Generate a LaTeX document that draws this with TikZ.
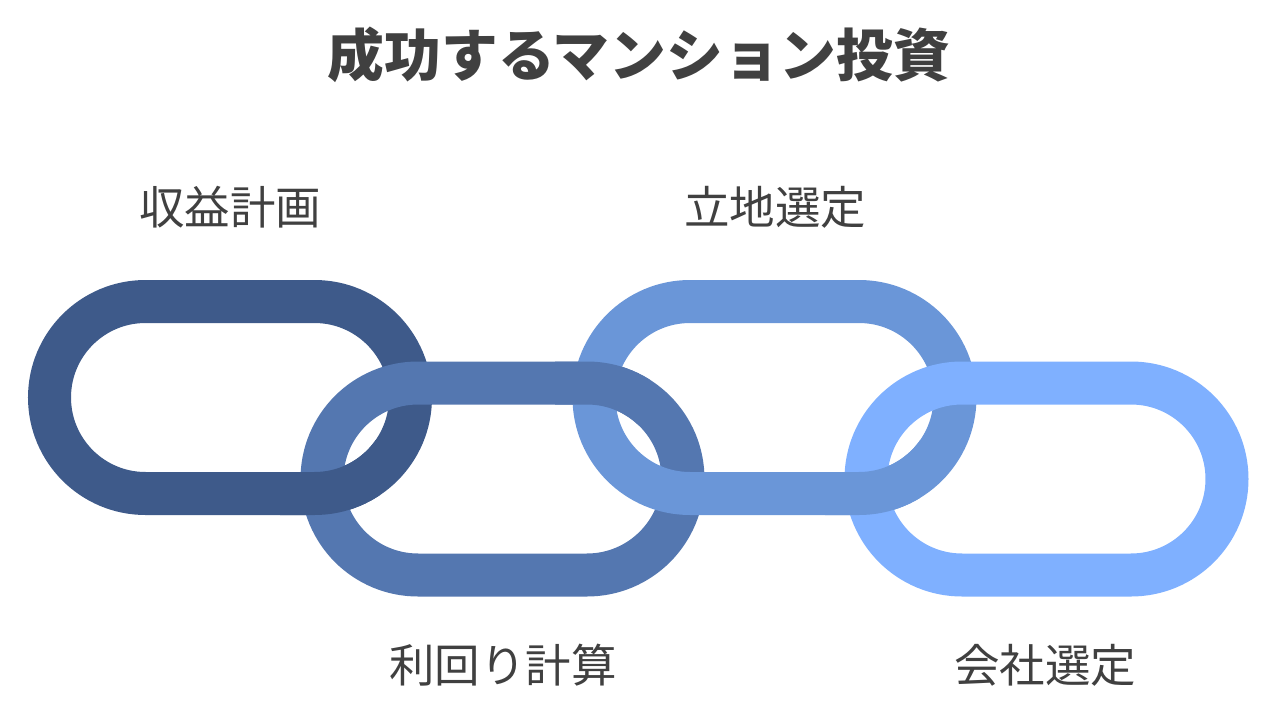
\documentclass[tikz,border=0pt]{standalone}
\usepackage{fontspec}
\setmainfont{Noto Sans CJK JP}
\usetikzlibrary{positioning}
\definecolor{linknavy}{RGB}{62,90,138}
\definecolor{linkblue}{RGB}{84,119,176}
\definecolor{linksky}{RGB}{106,150,216}
\definecolor{linkpale}{RGB}{127,176,255}
\definecolor{textgray}{RGB}{64,64,64}
\tikzset{
  chainring/.style={line width=43pt, rounded corners=96pt},
  linklabel/.style={font=\fontsize{45.5}{50}\selectfont, text=textgray},
  titletext/.style={font=\fontsize{56.8}{62}\selectfont\bfseries, text=textgray}
}
% one link of the chain: centre x, centre y, colour
\newcommand{\chainlink}[3]{%
  \draw[chainring, draw=#3] (#1-180.5,#2-96) rectangle (#1+180.5,#2+96);}

\begin{document}
\begin{tikzpicture}[x=1pt, y=-1pt]
\useasboundingbox (0,0) rectangle (1278,720);
\node[titletext] (title) at (639,55) {成功するマンション投資};
% the four links
\foreach \cx/\cy/\col in {230/397.5/linknavy, 502.5/479/linkblue, 774.5/397.5/linksky, 1046.5/479/linkpale} {
    \chainlink{\cx}{\cy}{\col}
}
% crossings where the earlier link lies on top
\foreach \cx/\cy/\col/\xa/\ya/\xb/\yb in {230/397.5/linknavy/280/440/380/530, 502.5/479/linkblue/555/345/650/425, 774.5/397.5/linksky/825/440/920/530} {
    \begin{scope}
    \clip (\xa,\ya) rectangle (\xb,\yb);
    \chainlink{\cx}{\cy}{\col}
    \end{scope}
}
% labels
\foreach \i/\x/\y/\txt in {1/230/207/収益計画, 2/503/665/利回り計算, 3/775/207/立地選定, 4/1045/665/会社選定} {
    \node[linklabel] (label\i) at (\x,\y) {\txt};
}
\end{tikzpicture}
\end{document}
